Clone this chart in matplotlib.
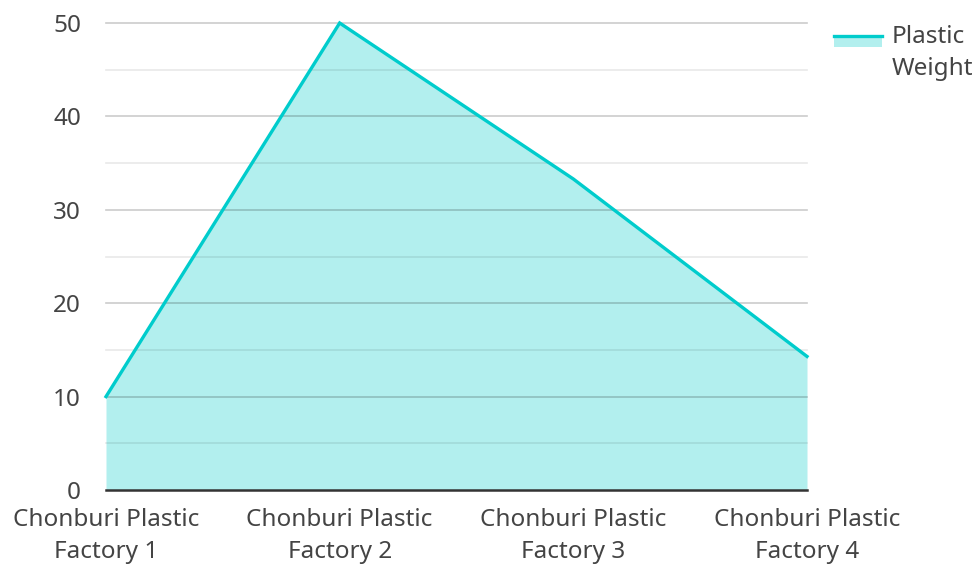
import matplotlib.pyplot as plt
from matplotlib.patches import Rectangle
from matplotlib.lines import Line2D

plt.rcParams['font.family'] = ['Noto Sans', 'DejaVu Sans']

factories = ['Chonburi Plastic\nFactory 1', 'Chonburi Plastic\nFactory 2',
             'Chonburi Plastic\nFactory 3', 'Chonburi Plastic\nFactory 4']
weights = [10, 50, 33.3, 14.3]
y_ticks = [0, 10, 20, 30, 40, 50]
series_name = 'Plastic\nWeight'

line_color = '#00cccc'
fill_color = '#b2efee'
text_color = '#444444'
fs = 17.5

W, H = 978, 566
fig = plt.figure(figsize=(W / 100, H / 100), dpi=100)
ax = fig.add_axes([106 / W, 1 - 490 / H, (807 - 106) / W, (490 - 23) / H])

x = list(range(len(factories)))
ax.fill_between(x, weights, 0, color=fill_color, zorder=1, linewidth=0)
ax.plot(x, weights, color=line_color, linewidth=2.4, zorder=3, clip_on=False,
        solid_joinstyle='miter')

# grid lines (show through the fill)
for v in range(5, 55, 5):
    major = v % 10 == 0
    ax.axhline(v, color='#000000', alpha=0.2 if major else 0.09,
               linewidth=1.2, zorder=2, clip_on=False)
ax.axhline(0, color='#333333', linewidth=1.8, zorder=4, clip_on=False)

ax.set_xlim(0, len(factories) - 1)
ax.set_ylim(0, 50)
ax.set_xticks(x)
ax.set_xticklabels(factories, fontsize=fs, color=text_color, linespacing=1.42)
ax.set_yticks(y_ticks)
ax.set_yticklabels([str(t) for t in y_ticks], fontsize=fs, color=text_color)
ax.tick_params(length=0, pad=18)
ax.tick_params(axis='x', pad=13)
for s in ax.spines.values():
    s.set_visible(False)

# legend
fig.add_artist(Rectangle((834 / W, 1 - 47 / H), 48 / W, 12 / H,
                         transform=fig.transFigure, color=fill_color, lw=0))
fig.add_artist(Line2D([834 / W, 882 / W], [1 - 36 / H, 1 - 36 / H],
                      transform=fig.transFigure, color=line_color, lw=2.4))
fig.text(892 / W, 1 - 53 / H, series_name, fontsize=fs, color=text_color,
         va='center', ha='left', linespacing=1.42)

fig.savefig('out.png', dpi=100)
